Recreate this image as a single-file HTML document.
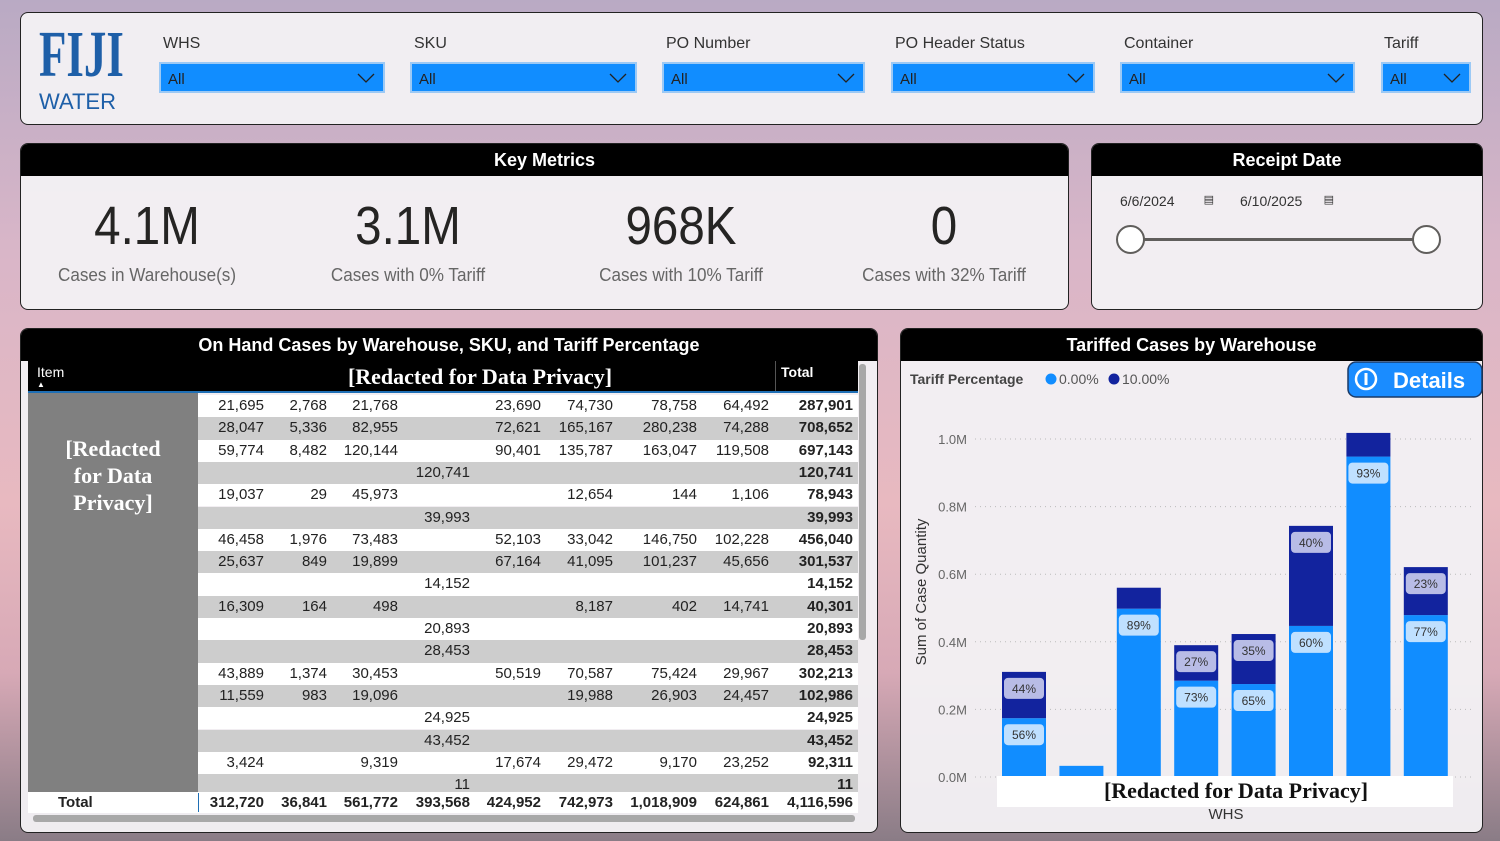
<!DOCTYPE html>
<html><head><meta charset="utf-8">
<style>
*{box-sizing:border-box;margin:0;padding:0}
body{width:1500px;height:841px;overflow:hidden;position:relative;font-family:"Liberation Sans","DejaVu Sans",sans-serif;
background:linear-gradient(180deg,#b9aac4 0%,#d9b6c8 30%,#e8b9c0 60%,#d7a9b6 80%,#8a7c86 100%);}
.panel{position:absolute;background:rgba(243,240,244,0.96);border:1.5px solid #222;border-radius:8px;overflow:hidden}
.hdr{position:absolute;left:0;right:0;top:0;height:32px;background:#000;color:#fff;font-weight:bold;font-size:18px;text-align:center;line-height:32px}
.flabel{position:absolute;top:22px;font-size:16px;color:#333}
.dd{position:absolute;top:62px;height:31px;background:#118dff;border:2px solid #9cc9f5;color:#222;font-size:15px;padding:7px 0 0 7px}
.dd svg{position:absolute;right:8px;top:9px}
.kv{position:absolute;top:195px;width:260px;text-align:center;font-size:54px;color:#252423;transform:scaleX(0.88)}
.kl{position:absolute;top:265px;width:260px;text-align:center;font-size:18px;color:#666;transform:scaleX(0.95)}
.cell{position:absolute;font-size:15px;color:#222;text-align:right}
</style></head><body>

<div class="panel" style="left:20px;top:12px;width:1463px;height:113px">
  <div style="position:absolute;left:18px;top:12px;color:#1e5fa8;font-family:'Liberation Serif',serif;font-weight:bold;font-size:66px;line-height:60px;transform:scaleX(0.68);transform-origin:left">FIJI</div>
  <div style="position:absolute;left:18px;top:76px;color:#1e5fa8;font-size:22px">WATER</div>
  <div class="flabel" style="left:142px">WHS</div>
  <div class="flabel" style="left:393px">SKU</div>
  <div class="flabel" style="left:645px">PO Number</div>
  <div class="flabel" style="left:874px">PO Header Status</div>
  <div class="flabel" style="left:1103px">Container</div>
  <div class="flabel" style="left:1363px">Tariff</div>
</div>
<div class="dd" style="left:159px;width:226px">All<svg width="18" height="10"><path d="M1 1L9 9L17 1" stroke="#222" fill="none" stroke-width="1.3"/></svg></div>
<div class="dd" style="left:410px;width:227px">All<svg width="18" height="10"><path d="M1 1L9 9L17 1" stroke="#222" fill="none" stroke-width="1.3"/></svg></div>
<div class="dd" style="left:662px;width:203px">All<svg width="18" height="10"><path d="M1 1L9 9L17 1" stroke="#222" fill="none" stroke-width="1.3"/></svg></div>
<div class="dd" style="left:891px;width:204px">All<svg width="18" height="10"><path d="M1 1L9 9L17 1" stroke="#222" fill="none" stroke-width="1.3"/></svg></div>
<div class="dd" style="left:1120px;width:235px">All<svg width="18" height="10"><path d="M1 1L9 9L17 1" stroke="#222" fill="none" stroke-width="1.3"/></svg></div>
<div class="dd" style="left:1381px;width:90px">All<svg width="18" height="10"><path d="M1 1L9 9L17 1" stroke="#222" fill="none" stroke-width="1.3"/></svg></div>

<div class="panel" style="left:20px;top:143px;width:1049px;height:167px">
  <div class="hdr">Key Metrics</div>
</div>
<div class="kv" style="left:17px">4.1M</div>
<div class="kl" style="left:17px">Cases in Warehouse(s)</div>
<div class="kv" style="left:278px">3.1M</div>
<div class="kl" style="left:278px">Cases with 0% Tariff</div>
<div class="kv" style="left:551px">968K</div>
<div class="kl" style="left:551px">Cases with 10% Tariff</div>
<div class="kv" style="left:814px">0</div>
<div class="kl" style="left:814px">Cases with 32% Tariff</div>

<div class="panel" style="left:1091px;top:143px;width:392px;height:167px">
  <div class="hdr">Receipt Date</div>
  <div style="position:absolute;left:20px;top:44px;width:110px;height:30px;font-size:14px;color:#333;padding:5px 8px">6/6/2024<span style="position:absolute;right:8px;top:5px;font-size:11px">▤</span></div>
  <div style="position:absolute;left:140px;top:44px;width:110px;height:30px;font-size:14px;color:#333;padding:5px 8px">6/10/2025<span style="position:absolute;right:8px;top:5px;font-size:11px">▤</span></div>
  <div style="position:absolute;left:38px;top:94px;width:297px;height:3px;background:#605e5c"></div>
  <div style="position:absolute;left:24px;top:81px;width:29px;height:29px;border-radius:50%;background:#fff;border:2.5px solid #605e5c"></div>
  <div style="position:absolute;left:320px;top:81px;width:29px;height:29px;border-radius:50%;background:#fff;border:2.5px solid #605e5c"></div>
</div>

<div class="panel" style="left:20px;top:328px;width:858px;height:505px">
  <div class="hdr">On Hand Cases by Warehouse, SKU, and Tariff Percentage</div>
</div>
<div style="position:absolute;left:28px;top:361px;width:830px;height:32px;background:#000;border-bottom:2px solid #1f6fb5"></div>
<div style="position:absolute;left:37px;top:364px;color:#fff;font-size:14px">Item<br><span style="font-size:8px;position:relative;top:-6px">▲</span></div>
<div style="position:absolute;left:300px;top:364px;width:360px;text-align:center;color:#fff;font-family:'Liberation Serif',serif;font-weight:bold;font-size:22px">[Redacted for Data Privacy]</div>
<div style="position:absolute;left:775px;top:361px;width:83px;height:30px;border-left:1px solid #555;color:#fff;font-weight:bold;font-size:14px;padding:3px 0 0 5px">Total</div>
<div id="rows" style="position:absolute;left:0;top:0"></div>
<div style="position:absolute;left:28px;top:393px;width:170px;height:399px;background:#808080;color:#fff;font-family:'Liberation Serif',serif;font-weight:bold;font-size:22px;text-align:center;padding-top:42px;line-height:27px">[Redacted<br>for Data<br>Privacy]</div>
<div style="position:absolute;left:859px;top:364px;width:7px;height:276px;background:#a8a8a8;border-radius:3px"></div>
<div style="position:absolute;left:33px;top:815px;width:822px;height:7px;background:#a8a8a8;border-radius:3px"></div>

<div class="panel" style="left:900px;top:328px;width:583px;height:505px">
  <div class="hdr">Tariffed Cases by Warehouse</div>
</div>
<svg id="chart" style="position:absolute;left:0;top:0" width="1500" height="841"></svg>

<script>
// ---------- table data ----------
const tableRows = [
 ["21,695","2,768","21,768","","23,690","74,730","78,758","64,492","287,901"],
 ["28,047","5,336","82,955","","72,621","165,167","280,238","74,288","708,652"],
 ["59,774","8,482","120,144","","90,401","135,787","163,047","119,508","697,143"],
 ["","","","120,741","","","","","120,741"],
 ["19,037","29","45,973","","","12,654","144","1,106","78,943"],
 ["","","","39,993","","","","","39,993"],
 ["46,458","1,976","73,483","","52,103","33,042","146,750","102,228","456,040"],
 ["25,637","849","19,899","","67,164","41,095","101,237","45,656","301,537"],
 ["","","","14,152","","","","","14,152"],
 ["16,309","164","498","","","8,187","402","14,741","40,301"],
 ["","","","20,893","","","","","20,893"],
 ["","","","28,453","","","","","28,453"],
 ["43,889","1,374","30,453","","50,519","70,587","75,424","29,967","302,213"],
 ["11,559","983","19,096","","","19,988","26,903","24,457","102,986"],
 ["","","","24,925","","","","","24,925"],
 ["","","","43,452","","","","","43,452"],
 ["3,424","","9,319","","17,674","29,472","9,170","23,252","92,311"],
 ["","","","11","","","","","11"]
];
const tableTotals = ["312,720","36,841","561,772","393,568","424,952","742,973","1,018,909","624,861","4,116,596"];
const colRight=[264,327,398,470,541,613,697,769,853];
const rowsEl=document.getElementById('rows');
let html='';
const rowH=22.3, top0=395;
tableRows.forEach((r,i)=>{
  const y=top0+i*rowH;
  const h=Math.min(rowH,792-y);
  html+=`<div style="position:absolute;left:198px;top:${y}px;width:660px;height:${h}px;background:${i%2?'#cdcdcd':'#fff'};overflow:hidden"></div>`;
  r.forEach((v,j)=>{ if(!v) return;
    const ty=y+2; if(ty>778) return;
    html+=`<div class="cell" style="left:${colRight[j]-90}px;width:90px;top:${ty}px;${j==8?'font-weight:bold':''}">${v}</div>`;
  });
});
html+=`<div style="position:absolute;left:28px;top:792px;width:830px;height:21px;background:#fff"></div>`;
html+=`<div style="position:absolute;left:58px;top:794px;font-size:15px;font-weight:bold;color:#222">Total</div>`;
html+=`<div style="position:absolute;left:198px;top:793px;width:1px;height:19px;background:#1f6fb5"></div>`;
tableTotals.forEach((v,j)=>{
  html+=`<div class="cell" style="left:${colRight[j]-100}px;width:100px;top:794px;font-weight:bold">${v}</div>`;
});
rowsEl.innerHTML=html;

// ---------- chart data ----------
const warehouses = ["W1","W2","W3","W4","W5","W6","W7","W8"];
const tariff0 = [0.174,0.033,0.498,0.285,0.275,0.447,0.948,0.479];
const tariff10 = [0.137,0,0.062,0.105,0.148,0.296,0.070,0.142];
const yTicks = [0,0.2,0.4,0.6,0.8,1.0];
const yTickLabels = ["0.0M","0.2M","0.4M","0.6M","0.8M","1.0M"];

const NS='http://www.w3.org/2000/svg';
const svg=document.getElementById('chart');
function mk(tag,attrs,parent){const e=document.createElementNS(NS,tag);for(const k in attrs)e.setAttribute(k,attrs[k]);(parent||svg).appendChild(e);return e;}
const y=v=>777-v*338;
const x0=1002, step=57.4, bw=44;
const x=i=>x0+i*step;

yTicks.forEach((t,i)=>{
  const g=mk('line',{x1:975,x2:1472,y1:y(t),y2:y(t),stroke:'#bbb','stroke-dasharray':'1 4'});
  
  
  const tx=mk('text',{x:967,y:y(t)+5,'text-anchor':'end','font-size':13,fill:'#666','font-family':'Liberation Sans, sans-serif'});
  tx.textContent=yTickLabels[i];
  
  
});
const yt=mk('text',{x:0,y:0,transform:'translate(926,592) rotate(-90)','text-anchor':'middle','font-size':15,fill:'#333','font-family':'Liberation Sans, sans-serif'});
yt.textContent='Sum of Case Quantity';



warehouses.forEach((w,i)=>{
  const a=tariff0[i], b=tariff10[i], tot=a+b;
  const r0=mk('rect',{x:x(i),y:y(a),width:bw,height:y(0)-y(a),fill:'#118dff'});
  
  
  if(b>0){
    const r1=mk('rect',{x:x(i),y:y(tot),width:bw,height:y(a)-y(tot),fill:'#12239e'});
    
    
    const p1=Math.round(b/tot*100), p0=100-p1;
    const h1=y(a)-y(tot);
    [[p0,y(a)+6,'#bfe0ff',true],[p1,y(tot)+6,'#b8bce6',h1>30]].forEach(([p,ly,c,show])=>{
      if(!show) return;
      const lb=mk('rect',{x:x(i)+2,y:ly,width:bw-4,height:21,rx:4,fill:c});
      
      
      const t=mk('text',{x:x(i)+bw/2,y:ly+15,'text-anchor':'middle','font-size':12,fill:'#333','font-family':'Liberation Sans, sans-serif'});
      t.textContent=p+'%';
      
      
    });
  }
});
const red=mk('rect',{x:997,y:776,width:456,height:31,fill:'#fff'});


const rt=mk('text',{x:1236,y:798,'text-anchor':'middle','font-size':22,'font-weight':'bold',fill:'#111','font-family':'Liberation Serif, serif'});
rt.textContent='[Redacted for Data Privacy]';


const xt=mk('text',{x:1226,y:819,'text-anchor':'middle','font-size':15,fill:'#333','font-family':'Liberation Sans, sans-serif'});
xt.textContent='WHS';



// legend
const lg=mk('text',{x:910,y:384,'font-size':14,'font-weight':'bold',fill:'#444','font-family':'Liberation Sans, sans-serif'});
lg.textContent='Tariff Percentage';


[[1051,'#118dff','0.00%',1059],[1114,'#12239e','10.00%',1122]].forEach(([cx,c,l,tx])=>{
  const d=mk('circle',{cx:cx,cy:379,r:5.5,fill:c});
  
  
  const t=mk('text',{x:tx,y:384,'font-size':14,fill:'#555','font-family':'Liberation Sans, sans-serif'});
  t.textContent=l;
  
  
});
// details button
const btn=mk('rect',{x:1348,y:362,width:134,height:35,rx:8,fill:'#1a8cff',stroke:'#1b3a66','stroke-width':1.5});


const ic=mk('circle',{cx:1366,cy:379,r:10,fill:'none',stroke:'#fff','stroke-width':2.5});


const il=mk('line',{x1:1366,x2:1366,y1:373,y2:385,stroke:'#fff','stroke-width':3});


const bt=mk('text',{x:1393,y:388,'font-size':22,'font-weight':'bold',fill:'#fff','font-family':'Liberation Sans, sans-serif'});
bt.textContent='Details';


</script>
</body></html>
